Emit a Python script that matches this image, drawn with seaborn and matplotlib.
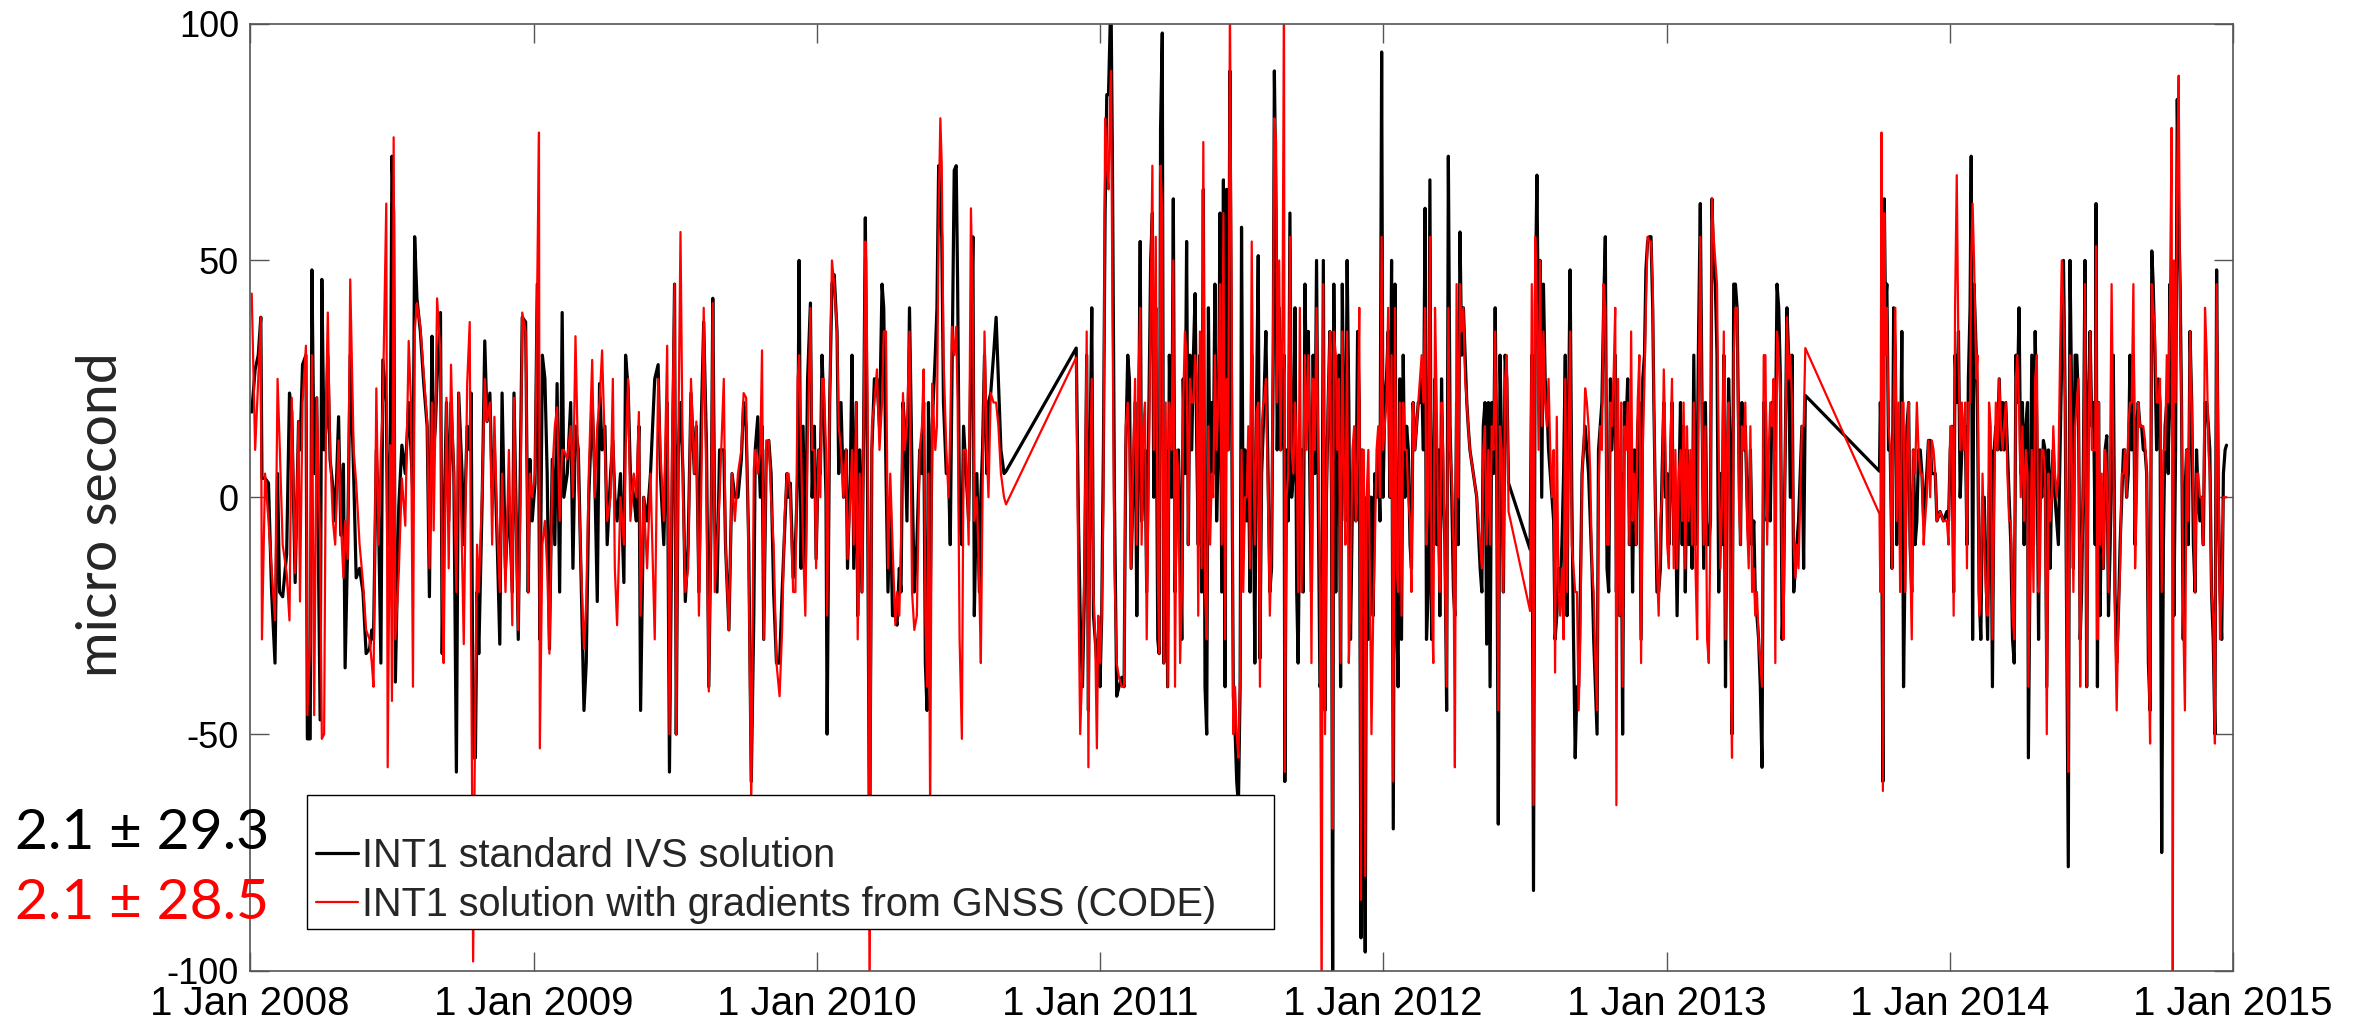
import numpy as np
import pandas as pd
import matplotlib
matplotlib.use("Agg")
import matplotlib.pyplot as plt
from matplotlib.patches import Rectangle
import seaborn as sns

################################################################################
# session epochs (decimal year) and clock offsets (micro second)

t_year = [
    # 2008
    2008.006, 2008.018, 2008.029, 2008.038, 2008.042, 2008.053, 2008.065, 2008.076, 2008.088, 2008.097,
    2008.104, 2008.115, 2008.129, 2008.139, 2008.147, 2008.159, 2008.171, 2008.176, 2008.185, 2008.197,
    2008.202, 2008.212, 2008.218, 2008.226, 2008.235, 2008.247, 2008.253, 2008.261, 2008.268, 2008.274,
    2008.282, 2008.292, 2008.300, 2008.312, 2008.320, 2008.329, 2008.335, 2008.344, 2008.353, 2008.365,
    2008.374, 2008.386, 2008.398, 2008.409, 2008.421, 2008.429, 2008.435, 2008.445, 2008.453, 2008.461,
    2008.468, 2008.480, 2008.485, 2008.494, 2008.500, 2008.506, 2008.512, 2008.524, 2008.535, 2008.547,
    2008.559, 2008.567, 2008.574, 2008.580, 2008.588, 2008.600, 2008.612, 2008.624, 2008.632, 2008.641,
    2008.647, 2008.653, 2008.659, 2008.671, 2008.677, 2008.682, 2008.692, 2008.700, 2008.708, 2008.718,
    2008.727, 2008.735, 2008.747, 2008.753, 2008.765, 2008.774, 2008.779, 2008.786, 2008.794, 2008.800,
    2008.806, 2008.818, 2008.827, 2008.835, 2008.845, 2008.853, 2008.861, 2008.871, 2008.880,
    # 2009
    2008.888, 2008.900, 2008.912, 2008.924, 2008.930, 2008.938, 2008.945, 2008.953, 2008.959, 2008.971,
    2008.980, 2008.986, 2008.994, 2009.004, 2009.012, 2009.018, 2009.021, 2009.030, 2009.039, 2009.047,
    2009.055, 2009.065, 2009.074, 2009.082, 2009.091, 2009.100, 2009.106, 2009.118, 2009.130, 2009.138,
    2009.147, 2009.157, 2009.168, 2009.177, 2009.185, 2009.194, 2009.206, 2009.215, 2009.224, 2009.232,
    2009.241, 2009.251, 2009.259, 2009.271, 2009.279, 2009.286, 2009.294, 2009.306, 2009.318, 2009.324,
    2009.333, 2009.341, 2009.353, 2009.362, 2009.371, 2009.377, 2009.388, 2009.400, 2009.412, 2009.427,
    2009.439, 2009.447, 2009.459, 2009.471, 2009.479, 2009.488, 2009.497, 2009.503, 2009.510, 2009.518,
    2009.527, 2009.535, 2009.545, 2009.555, 2009.567, 2009.574, 2009.583, 2009.591, 2009.600, 2009.610,
    2009.618, 2009.627, 2009.632, 2009.639, 2009.647, 2009.656, 2009.671, 2009.677, 2009.689, 2009.700,
    2009.710, 2009.721, 2009.733, 2009.741, 2009.750, 2009.759, 2009.768, 2009.777,
    # 2010
    2009.782, 2009.791, 2009.800, 2009.806, 2009.812, 2009.821, 2009.830, 2009.838, 2009.847, 2009.857,
    2009.868, 2009.877, 2009.885, 2009.894, 2009.900, 2009.906, 2009.916, 2009.924, 2009.932, 2009.937,
    2009.944, 2009.951, 2009.959, 2009.967, 2009.977, 2009.983, 2009.991, 2009.997, 2010.006, 2010.012,
    2010.018, 2010.024, 2010.032, 2010.036, 2010.045, 2010.053, 2010.061, 2010.071, 2010.077, 2010.085,
    2010.094, 2010.103, 2010.108, 2010.118, 2010.124, 2010.130, 2010.139, 2010.144, 2010.151, 2010.159,
    2010.165, 2010.171, 2010.174, 2010.179, 2010.186, 2010.194, 2010.203, 2010.212, 2010.221, 2010.230,
    2010.236, 2010.244, 2010.251, 2010.259, 2010.267, 2010.277, 2010.283, 2010.291, 2010.297, 2010.304,
    2010.310, 2010.318, 2010.327, 2010.336, 2010.344, 2010.353, 2010.363, 2010.371, 2010.377, 2010.383,
    2010.389, 2010.394, 2010.400, 2010.407, 2010.418, 2010.424, 2010.430, 2010.436, 2010.441, 2010.447,
    2010.457, 2010.465, 2010.471, 2010.477, 2010.485, 2010.492, 2010.497, 2010.504, 2010.512, 2010.518,
    2010.527, 2010.536, 2010.544, 2010.551, 2010.556, 2010.565, 2010.574, 2010.579, 2010.585, 2010.592,
    2010.600, 2010.606, 2010.614, 2010.624, 2010.633, 2010.641, 2010.650, 2010.661, 2010.668,
    # 2011
    2010.916, 2010.924, 2010.930, 2010.938, 2010.945, 2010.953, 2010.959, 2010.965, 2010.971, 2010.977,
    2010.983, 2010.989, 2010.994, 2011.000, 2011.006, 2011.012, 2011.018, 2011.024, 2011.030, 2011.036,
    2011.039, 2011.044, 2011.051, 2011.059, 2011.067, 2011.077, 2011.085, 2011.091, 2011.098, 2011.104,
    2011.110, 2011.118, 2011.124, 2011.130, 2011.136, 2011.142, 2011.147, 2011.153, 2011.159, 2011.165,
    2011.173, 2011.179, 2011.185, 2011.190, 2011.197, 2011.204, 2011.209, 2011.214, 2011.220, 2011.225,
    2011.232, 2011.239, 2011.245, 2011.253, 2011.259, 2011.265, 2011.271, 2011.277, 2011.283, 2011.289,
    2011.294, 2011.300, 2011.306, 2011.312, 2011.318, 2011.324, 2011.330, 2011.336, 2011.342, 2011.347,
    2011.353, 2011.359, 2011.365, 2011.371, 2011.377, 2011.383, 2011.389, 2011.395, 2011.400, 2011.406,
    2011.412, 2011.418, 2011.424, 2011.430, 2011.436, 2011.442, 2011.447, 2011.453, 2011.459, 2011.465,
    2011.471, 2011.477, 2011.483, 2011.489, 2011.495, 2011.500, 2011.506, 2011.512, 2011.518, 2011.524,
    2011.530, 2011.536, 2011.542, 2011.547, 2011.553, 2011.559, 2011.565, 2011.571, 2011.577,
    # 2012
    2011.579, 2011.586, 2011.595, 2011.600, 2011.606, 2011.612, 2011.616, 2011.622, 2011.626, 2011.633,
    2011.638, 2011.645, 2011.650, 2011.653, 2011.659, 2011.665, 2011.671, 2011.677, 2011.683, 2011.689,
    2011.695, 2011.700, 2011.706, 2011.712, 2011.718, 2011.724, 2011.730, 2011.736, 2011.742, 2011.747,
    2011.753, 2011.759, 2011.765, 2011.771, 2011.777, 2011.783, 2011.789, 2011.795, 2011.800, 2011.806,
    2011.812, 2011.818, 2011.822, 2011.826, 2011.833, 2011.838, 2011.844, 2011.850, 2011.856, 2011.862,
    2011.867, 2011.873, 2011.879, 2011.885, 2011.892, 2011.898, 2011.904, 2011.910, 2011.916, 2011.922,
    2011.926, 2011.932, 2011.937, 2011.942, 2011.948, 2011.953, 2011.959, 2011.965, 2011.971, 2011.977,
    2011.983, 2011.989, 2011.995, 2012.000, 2012.006, 2012.012, 2012.018, 2012.024, 2012.030, 2012.036,
    2012.042, 2012.048, 2012.053, 2012.059, 2012.065, 2012.071, 2012.077, 2012.083, 2012.089, 2012.095,
    2012.100, 2012.106, 2012.112, 2012.118, 2012.124, 2012.130, 2012.136, 2012.142, 2012.148, 2012.153,
    2012.159, 2012.165, 2012.171, 2012.177, 2012.183, 2012.189, 2012.195, 2012.200, 2012.206, 2012.212,
    2012.218, 2012.224, 2012.230, 2012.236, 2012.242, 2012.248, 2012.253, 2012.259, 2012.265, 2012.271,
    2012.277, 2012.283, 2012.289, 2012.295, 2012.300, 2012.306, 2012.318, 2012.330, 2012.342, 2012.348,
    2012.353, 2012.359, 2012.365, 2012.371, 2012.377, 2012.383, 2012.389, 2012.395, 2012.400, 2012.406,
    2012.412, 2012.418, 2012.424, 2012.430, 2012.436, 2012.442,
    # 2013
    2012.518, 2012.524, 2012.530, 2012.536, 2012.542, 2012.548, 2012.553, 2012.559, 2012.565, 2012.571,
    2012.577, 2012.583, 2012.589, 2012.595, 2012.601, 2012.606, 2012.612, 2012.618, 2012.624, 2012.630,
    2012.636, 2012.642, 2012.648, 2012.653, 2012.659, 2012.665, 2012.671, 2012.677, 2012.683, 2012.689,
    2012.695, 2012.701, 2012.706, 2012.712, 2012.718, 2012.724, 2012.730, 2012.736, 2012.742, 2012.748,
    2012.754, 2012.759, 2012.765, 2012.771, 2012.777, 2012.783, 2012.789, 2012.795, 2012.801, 2012.806,
    2012.812, 2012.818, 2012.822, 2012.828, 2012.834, 2012.839, 2012.844, 2012.850, 2012.856, 2012.862,
    2012.868, 2012.874, 2012.879, 2012.885, 2012.891, 2012.897, 2012.903, 2012.909, 2012.915, 2012.921,
    2012.926, 2012.932, 2012.938, 2012.944, 2012.950, 2012.954, 2012.959, 2012.965, 2012.971, 2012.977,
    2012.983, 2012.989, 2012.995, 2013.001, 2013.007, 2013.012, 2013.018, 2013.024, 2013.030, 2013.036,
    2013.042, 2013.048, 2013.054, 2013.059, 2013.065, 2013.071, 2013.077, 2013.083, 2013.089, 2013.095,
    2013.101, 2013.107, 2013.112, 2013.118, 2013.124, 2013.130, 2013.136, 2013.142, 2013.148, 2013.154,
    2013.159, 2013.165, 2013.171, 2013.177, 2013.183, 2013.189, 2013.195, 2013.201, 2013.207, 2013.212,
    2013.218, 2013.224, 2013.230, 2013.236, 2013.242, 2013.248, 2013.254, 2013.260, 2013.265, 2013.271,
    2013.277, 2013.283, 2013.289, 2013.295, 2013.301, 2013.307, 2013.312, 2013.318, 2013.324, 2013.330,
    2013.336, 2013.342, 2013.348, 2013.354, 2013.360, 2013.365, 2013.371, 2013.377,
    # 2014
    2013.383, 2013.389, 2013.395, 2013.401, 2013.407, 2013.412, 2013.418, 2013.424, 2013.430, 2013.436,
    2013.442, 2013.448, 2013.454, 2013.459, 2013.465, 2013.471, 2013.477, 2013.483, 2013.489, 2013.751,
    2013.754, 2013.758, 2013.763, 2013.768, 2013.772, 2013.777, 2013.783, 2013.789, 2013.795, 2013.801,
    2013.807, 2013.812, 2013.818, 2013.824, 2013.830, 2013.836, 2013.842, 2013.848, 2013.854, 2013.859,
    2013.865, 2013.871, 2013.877, 2013.883, 2013.889, 2013.895, 2013.901, 2013.907, 2013.912, 2013.918,
    2013.924, 2013.930, 2013.936, 2013.942, 2013.948, 2013.954, 2013.965, 2013.977, 2013.989, 2013.995,
    2014.001, 2014.007, 2014.013, 2014.018, 2014.024, 2014.030, 2014.036, 2014.042, 2014.048, 2014.054,
    2014.060, 2014.065, 2014.071, 2014.075, 2014.080, 2014.085, 2014.093, 2014.097, 2014.103, 2014.109,
    2014.115, 2014.121, 2014.127, 2014.133, 2014.138, 2014.144, 2014.150, 2014.156, 2014.162, 2014.168,
    2014.174, 2014.180, 2014.186, 2014.191, 2014.197, 2014.203, 2014.209, 2014.215, 2014.221, 2014.227,
    2014.233, 2014.238, 2014.244, 2014.250, 2014.256, 2014.262, 2014.268, 2014.274, 2014.277,
    # late 2014
    2014.289, 2014.295, 2014.301, 2014.307, 2014.313, 2014.318, 2014.324, 2014.330, 2014.336, 2014.342,
    2014.348, 2014.354, 2014.360, 2014.365, 2014.371, 2014.377, 2014.383, 2014.389, 2014.395, 2014.401,
    2014.407, 2014.413, 2014.418, 2014.424, 2014.430, 2014.436, 2014.442, 2014.448, 2014.454, 2014.460,
    2014.465, 2014.471, 2014.477, 2014.483, 2014.489, 2014.495, 2014.501, 2014.507, 2014.513, 2014.516,
    2014.521, 2014.525, 2014.530, 2014.536, 2014.542, 2014.548, 2014.554, 2014.560, 2014.566, 2014.571,
    2014.577, 2014.583, 2014.589, 2014.595, 2014.601, 2014.607, 2014.613, 2014.618, 2014.624, 2014.630,
    2014.636, 2014.642, 2014.648, 2014.654, 2014.660, 2014.665, 2014.671, 2014.677, 2014.683, 2014.689,
    2014.695, 2014.701, 2014.707, 2014.713, 2014.718, 2014.724, 2014.730, 2014.736, 2014.742, 2014.748,
    2014.754, 2014.760, 2014.766, 2014.771, 2014.777, 2014.783, 2014.787, 2014.791, 2014.797, 2014.803,
    2014.808, 2014.813, 2014.818, 2014.824, 2014.830, 2014.836, 2014.842, 2014.848, 2014.854, 2014.860,
    2014.866, 2014.871, 2014.877, 2014.883, 2014.889, 2014.895, 2014.901, 2014.907, 2014.913, 2014.918,
    2014.924, 2014.930, 2014.936, 2014.942, 2014.948, 2014.954, 2014.960, 2014.966, 2014.972, 2014.977,
]

# INT1 standard IVS solution
ivs_std = [
    # 2008
    18, 27, 30, 38, 4, 4, 3, -20, -35, 5,
    -20, -21, -12, 22, 18, -18, 16, 10, 28, 30,
    -51, -51, 48, 5, 21, -47, 46, 10, 15, 30,
    8, 2, -5, 17, -8, 7, -36, -10, 30, 5,
    -17, -15, -20, -33, -32, -28, -30, 10, -5, -35,
    29, 20, -10, 10, 72, 60, -39, -2, 11, 5,
    20, 10, 0, 55, 42, 35, 24, 15, -21, 34,
    10, 15, 25, 39, -33, -10, 20, -5, 20, 5,
    -58, 22, 5, -10, 15, 10, 22, -55, -55, -20,
    -33, 0, 33, 16, 22, 2, 10, -10, -31,
    # 2009
    22, -15, 0, -20, 22, -5, -30, 10, 38, 37,
    -20, 8, -5, 3, 45, 0, -30, 30, 25, 5,
    -32, 8, -10, 24, -20, 39, 0, 5, 20, -15,
    15, 10, -20, -45, -35, 0, 20, 5, -22, 24,
    10, 15, -10, 5, 12, 0, -5, 5, -18, 30,
    23, 5, 0, -5, 15, -45, 0, -5, 5, 25,
    28, 5, -10, 20, -58, 0, 45, -50, 10, 20,
    5, -22, -10, 22, 5, 15, -20, 15, 37, 10,
    -40, 0, 42, -5, -20, 10, 10, -10, -28, 5,
    0, 0, 8, 20, 15, -10, -60, -25,
    # 2010
    10, 17, 0, 15, -30, 10, 12, 5, -20, -35,
    -35, -20, -8, 5, 0, 3, -17, -10, 5, 50,
    -15, 15, -15, 25, 41, 0, 15, -13, 10, 5,
    30, 20, 0, -50, 20, 45, 47, 35, 5, 20,
    0, 10, -15, 5, 30, -15, 20, -25, 10, -20,
    15, 59, 35, 0, -78, 10, 25, 25, 15, 45,
    40, 5, -20, 0, -25, -25, -27, -15, -20, 20,
    15, -5, 40, 5, -20, -10, 10, 5, 20, -35,
    -45, 20, -25, 15, 30, 40, 70, 60, 55, 20,
    5, 5, -10, 25, 69, 70, 45, -5, -10, 15,
    5, -5, 30, 55, -25, 5, -20, 0, 10, 30,
    5, 20, 22, 30, 38, 25, 10, 5, 5.5,
    # 2011
    31.5, -5, -25, -40, -20, 30, -45, 10, 40, -25,
    -30, -35, -30, -40, -25, 10, 60, 85, 85, 100,
    105, 70, 0, -42, -40, -38, -40, 10, 30, 25,
    -15, 5, 20, -25, 10, 54, -5, 5, 10, -20,
    20, 50, 60, 0, 40, -30, -33, 78, 98, -35,
    10, -40, 30, 0, 63, -20, 0, 10, -5, -30,
    25, 5, 54, -10, 30, 10, 30, 43, 10, -10,
    30, -20, 65, -40, -50, 40, 0, 20, 5, 45,
    -5, 10, 60, -20, 67, -40, 65, 10, 90, 20,
    -42, -49, -60, -65, -40, 57, -10, 10, -5, 10,
    -20, 30, 0, -35, 20, 51, -34, 5, 15,
    # 2012
    20, 35, 0, -20, -15, 30, 90, 60, 10, 40,
    10, 20, 30, -60, 10, -5, 60, 0, 5, 40,
    -20, -35, 0, 10, -20, 45, 20, 35, 0, -20,
    30, 5, 50, 0, -40, -38, 50, -45, 0, 20,
    35, 0, -108, 45, -20, 20, 30, -40, 45, 10,
    -5, 50, 20, -30, 0, 10, -5, 35, 20, -93,
    10, -55, -96, 0, -30, 0, 0, -25, 5, 0,
    10, -5, 94, 0, 20, 25, 35, 0, 50, -70,
    45, -25, -40, 25, -30, 30, 0, 15, 10, -10,
    -15, 20, 10, 15, 20, 20, 25, 10, 61, -30,
    -20, 67, -30, 0, 25, -10, 10, -25, 25, 0,
    -10, -45, 72, 15, 0, -20, -25, 20, -10, 56,
    30, 40, 30, 20, 15, 10, 5, 0, -15, -20,
    15, 20, -31, 20, -40, 20, 5, 40, 10, -69,
    30, 10, -20, 30, 25, 3,
    # 2013
    -11, 30, -83, 40, 68, 30, 50, 0, 45, 25,
    20, 10, 5, 0, -5, -30, -25, -15, -20, -10,
    5, 30, -25, 15, 48, 0, -30, -55, -40, -40,
    -20, 5, 10, 15, 10, 5, -5, -15, -30, -40,
    -50, 10, 15, 20, 40, 55, -15, -20, 25, 10,
    20, 30, -20, 10, -25, 5, -50, 20, 15, 25,
    -10, 10, -20, 10, -10, 15, 20, -30, 25, 30,
    48, 54, 55, 55, 40, 20, 0, -20, -20, -15,
    5, 20, 0, 5, -10, 5, 20, -10, 0, -25,
    0, 20, -10, 15, -20, 10, -10, 0, -15, 30,
    -10, 5, 35, 62, 20, -15, 20, -10, -10, -5,
    63, 50, 45, 30, -20, 5, -10, 30, -40, 0,
    25, 10, -50, 45, 45, 40, 10, -10, 20, 10,
    15, 0, -10, 10, -10, -5, -20, -25, -30, -40,
    -57, 20, 20, -5, 0, -5, 20, 20,
    # 2014
    10, 45, 40, 25, -30, -20, 10, 40, 30, 0,
    30, -20, -15, -10, -5, 5, 15, -15, 21.5, 5.5,
    20, 10, -60, 63, 40, 45, 10, 10, -15, 40,
    30, -10, 10, 0, 35, -40, -10, 15, 20, -10,
    -20, 10, -10, -5, 10, 10, 5, -5, 0, 5,
    12, 12, 5, 5, 5, -5, -3, -5, -3, -5,
    10, 15, -20, 30, 20, 35, 0, 10, 15, 15,
    -10, 25, 40, 72, -30, 45, 30, 20, -20, -30,
    0, 0, -15, -30, 0, 10, -40, 10, 15, 10,
    25, 10, 20, 10, 20, 10, 0, -10, -30, -35,
    30, 20, 40, 5, 20, -10, 15, 20, -55,
    # late 2014
    30, -10, 35, 15, -30, 10, 0, 12, 10, -40,
    10, -15, 5, 10, 0, -5, -10, 10, 30, 50,
    20, -35, -78, 50, 20, -15, 30, 30, 20, -30,
    -20, 5, 50, -40, 20, 35, 15, 20, -10, 62,
    -40, 20, -25, 0, -15, 10, 13, -25, -10, 10,
    30, -20, -35, -25, -10, 0, 10, 10, 0, 5,
    30, 10, 30, -10, 15, 20, 15, 15, 10, 10,
    5, -35, -45, 52, 45, 30, 10, 25, 20, -75,
    -10, 15, 20, 5, 45, 20, 10, -25, 10, 84,
    60, 45, 20, -30, 0, 10, -10, 35, 20, -10,
    -20, 10, 0, -5, 0, -10, 20, 20, 15, 10,
    -20, -30, -50, 48, 0, -20, -30, 5, 10, 11,
]

# INT1 solution with gradients from GNSS (CODE)
ivs_gnss = [
    # 2008
    43, 10, 25, 38, -30, 5, -5, -15, -26, 25,
    12, -10, -16, -26, 21, -16, 16, -22, 20, 32,
    -46, -30, 30, -46, 21, -10, -51, -50, 20, 39,
    10, -5, -10, 12, -5, -17, -5, -13, 46, 10,
    3, -10, -18, -28, -30, -35, -40, 23, -10, 10,
    20, 62, -57, 11, -43, 76, -30, -16, 4, -6,
    33, 20, -40, 35, 41, 36, 26, 16, -15, 20,
    -7, 16, 42, 30, -20, -35, 21, -15, 28, 5,
    -20, 22, -12, -31, 24, 37, -30, -98, -40, -10,
    -20, 2, 25, 16, 20, -10, 17, -7, -20,
    # 2009
    5, -20, 10, -27, 21, -10, -28, 0, 39, 35,
    -20, 5, 0, 5, 45, 77, -53, -10, -5, -15,
    -33, 5, 15, 19, -5, 10, 10, 8, 15, 0,
    34, 5, -17, -32, -22, 5, 29, 0, 15, 20,
    31, 10, -5, 0, 25, -15, -27, 0, -10, 10,
    25, -5, 5, 0, 18, -25, 0, -15, 5, -30,
    25, 10, -5, 32, -50, 10, 45, -50, 10, 56,
    0, -20, -15, 25, 5, 16, -25, 0, 40, 0,
    -41, 0, 41, -20, -10, 0, 25, -10, -28, 5,
    -5, 5, 10, 22, 21, -15, -65, 6,
    # 2010
    10, 5, 10, 31, -30, 12, 12, 0, -10, -35,
    -42, -28, -5, 5, 5, 0, -20, -20, 25, 30,
    10, -10, -25, 10, 40, 10, 10, -15, 10, 0,
    25, 25, 10, -25, 20, 50, 45, 35, 15, 10,
    0, 10, -13, 0, 10, -10, 20, -30, 5, -20,
    15, 54, 50, 20, -108, 15, 20, 27, 10, 20,
    35, 35, -15, 5, -10, -27, -20, -25, -10, 22,
    10, 15, 35, -20, -28, -25, 10, 15, 27, -25,
    -40, 5, -68, 24, 10, 15, 60, 80, 70, 30,
    10, 0, 15, 36, 30, 36, 20, -30, -51, 10,
    10, -10, 61, 40, -5, 0, -20, -35, 0, 35,
    10, 0, 22, 20, 20, 15, 5, 0, -1.5,
    # 2011
    29.5, -20, -50, -35, -15, 35, -57, 5, 25, -20,
    -30, -53, -25, -35, -25, 0, 80, 70, 65, 85,
    90, 40, -15, -35, -38, -40, -40, 15, 20, 10,
    -15, 10, 25, -10, 25, 40, -10, 15, 20, -30,
    10, 40, 70, 10, 55, -15, -33, 70, 60, -35,
    20, -40, 20, 10, 50, -40, 10, 5, -35, -20,
    20, 35, 30, -10, 25, 20, 20, 30, 25, -25,
    35, -15, 75, -20, -30, 15, -10, 5, 0, 30,
    10, 20, 45, -10, 60, -30, 25, 10, 105, 40,
    -50, -40, -50, -55, -38, 10, -20, 0, 0, 15,
    -15, 54, 10, -10, 18, 20, -40, 15, 20,
    # 2012
    20, 25, -5, -25, -10, 40, 80, 75, 20, 50,
    10, 40, 105, -58, 0, 5, 55, 10, 5, 20,
    10, -20, 40, -20, 5, 30, 10, 30, 10, -35,
    25, 10, 40, 10, -20, -108, 45, -50, 0, 20,
    35, 0, -70, 35, 30, 10, 25, -35, 35, 5,
    -10, 35, -35, -20, 10, 15, -5, 10, 40, -85,
    10, 10, -80, 0, 10, -15, -50, -25, -10, 10,
    15, 0, 55, 10, 15, 20, 40, 0, 30, -60,
    40, -15, -20, 20, -25, 20, 10, 10, 0, -5,
    -20, 20, 10, 15, 20, 25, 30, 20, 40, -10,
    0, 55, -20, -35, 40, 20, -10, -20, 20, 10,
    -15, -40, 40, 10, 5, -10, -57, 45, 0, 45,
    35, 40, 25, 20, 15, 10, 5, 0, -10, -15,
    10, 15, -10, 10, -10, 15, 10, 35, 5, -45,
    15, 10, -20, 25, 30, -3,
    # 2013
    -24, 45, -65, 55, 40, 10, 50, 15, 35, 20,
    15, 25, 10, 0, 10, -37, 17, -20, -25, -15,
    -30, 25, -20, 10, 35, -10, -15, -20, -20, -45,
    -30, 5, 10, 23, 20, 15, 5, -15, -20, -35,
    -45, 0, 15, 10, 45, 40, -10, -10, 20, 15,
    25, 40, -65, 25, -25, 20, -40, 15, 10, 20,
    -10, 35, -5, 5, -10, 20, 30, -35, 10, 25,
    40, 55, 54, 54, 45, 20, 0, -15, -25, -5,
    0, 27, 10, -10, -15, 10, 25, -15, 10, -15,
    5, 10, -5, 20, -15, 15, -5, 10, -10, 20,
    -15, -30, 20, 55, 15, -10, 15, -30, -35, -5,
    63, 55, 50, 45, 10, -15, 0, 35, -30, 10,
    20, -30, -55, 30, 40, 40, 0, -10, 15, 10,
    20, -5, -15, 15, -20, -15, -25, -20, -30, -35,
    -40, 30, 30, -10, 10, 20, 15, 25,
    # 2014
    -35, 35, 30, 20, -15, -30, 10, 38, 25, 30,
    20, -10, -17, -10, -15, 0, 15, 15, 31.5, -3.5,
    -20, 77, -62, 60, 30, 40, 15, 10, -15, 20,
    40, -5, 20, -20, 20, 20, -20, 10, 20, -10,
    -30, 10, 5, 20, 10, 5, 5, -10, -5, 0,
    12, 0, 12, 10, 5, -5, -3, -5, -5, -10,
    15, 15, -25, 40, 68, 30, 10, 20, 10, 20,
    -15, 20, 20, 50, 62, 50, 25, 30, -25, -20,
    5, -10, -20, -25, 20, 15, -30, 0, 20, 10,
    25, 15, 10, 15, 20, 5, -5, -5, -25, -30,
    25, 30, 20, 0, 15, -5, 10, 5, -40,
    # late 2014
    10, -20, 25, 30, -20, -15, 10, 10, 5, -50,
    5, -5, 0, 15, 5, 0, 5, 30, 50, 40,
    20, -30, -58, 30, 10, -20, 15, 20, 25, -40,
    -10, 0, 45, -40, 10, 35, 10, 10, 10, 53,
    -30, 20, -10, 5, -15, 10, 5, -20, 10, 45,
    10, -25, -45, -25, -15, 5, 5, 10, 0, 15,
    20, 20, 45, -15, 0, 20, 15, 15, 15, 12,
    5, -30, -52, 45, 40, 35, 20, 20, 25, -20,
    10, 10, 30, 20, 40, 78, -108, 50, 20, 70,
    89, 40, 20, -25, -45, 10, -5, 35, 20, 0,
    -20, 5, 5, 0, 0, -10, 40, 30, 10, 5,
    -20, -25, -52, 45, 10, -30, -20, 0, 0, 0,
]

series_labels = ["INT1 standard IVS solution",
                 "INT1 solution with gradients from GNSS (CODE)"]
stat_labels = ["2.1 \u00b1 29.3", "2.1 \u00b1 28.5"]
tick_years = [2008, 2009, 2010, 2011, 2012, 2013, 2014, 2015]
y_ticks = [-100, -50, 0, 50, 100]

################################################################################

def to_date(y):
    y0 = int(y)
    start = pd.Timestamp(year=y0, month=1, day=1)
    end = pd.Timestamp(year=y0 + 1, month=1, day=1)
    return start + (end - start) * (y - y0)


assert len(t_year) == len(ivs_std) == len(ivs_gnss), (len(t_year), len(ivs_std), len(ivs_gnss))

df = pd.DataFrame({"date": [to_date(y) for y in t_year],
                   "std": ivs_std,
                   "gnss": ivs_gnss})

sns.set_theme(style="white")
plt.rcParams["font.family"] = ["Liberation Sans", "DejaVu Sans"]

fig = plt.figure(figsize=(23.61, 10.21), dpi=100)
ax = fig.add_axes([0.1059, 0.0490, 0.8399, 0.9279])

sns.lineplot(data=df, x="date", y="std", color="black", lw=2.3,
             label=series_labels[0], ax=ax, estimator=None, sort=False)
sns.lineplot(data=df, x="date", y="gnss", color="red", lw=1.6,
             label=series_labels[1], ax=ax, estimator=None, sort=False)

ax.set_xlim(pd.Timestamp("2008-01-01"), pd.Timestamp("2015-01-01"))
ax.set_ylim(-100, 100)
ax.set_xticks([pd.Timestamp("%d-01-01" % y) for y in tick_years])
ax.set_xticklabels(["1 Jan %d" % y for y in tick_years])
ax.set_yticks(y_ticks)
ax.set_yticklabels([str(v) for v in y_ticks])
ax.set_xlabel("")
ax.set_ylabel("")

ax.tick_params(axis="both", direction="in", length=14, width=1.0,
               color="#555555", labelcolor="black",
               top=True, right=True, bottom=True, left=True)
ax.tick_params(axis="x", labelsize=29, pad=10)
ax.tick_params(axis="y", labelsize=26, pad=8)
for sp in ax.spines.values():
    sp.set_visible(True)
    sp.set_color("#555555")
    sp.set_linewidth(1.2)

# legend box (white, covers the lines) and frameless legend entries inside
box = Rectangle((0.0287, 0.0443), 0.4877, 0.1415, transform=ax.transAxes,
                facecolor="white", edgecolor="black", lw=1.0, zorder=4)
ax.add_patch(box)
leg = ax.legend(loc="lower left", bbox_to_anchor=(0.0333, 0.050),
                borderaxespad=0, borderpad=0, frameon=False, fontsize=28.5,
                handlelength=1.05, handletextpad=0.1, labelspacing=0.28)
leg.set_zorder(5)

fig.text(0.0432, 0.4956, "micro second", rotation=90, ha="center", va="center",
         fontsize=40, family=["Lato", "DejaVu Sans"])
fig.text(0.0064, 0.184, stat_labels[0], ha="left", va="center",
         fontsize=41, color="black", family=["Lato", "DejaVu Sans"])
fig.text(0.0064, 0.1146, stat_labels[1], ha="left", va="center",
         fontsize=41, color="red", family=["Lato", "DejaVu Sans"])

fig.savefig("out.png", dpi=100)
